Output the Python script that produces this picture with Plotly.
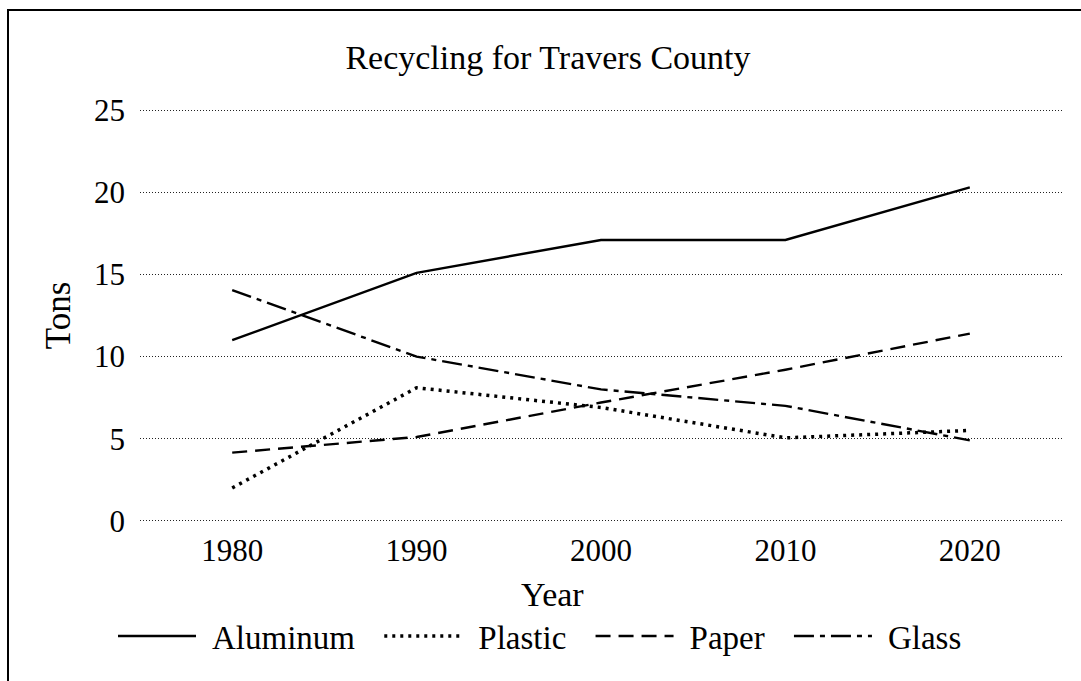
import plotly.graph_objects as go

years = ["1980", "1990", "2000", "2010", "2020"]
aluminum = [11.0, 15.1, 17.1, 17.1, 20.3]
plastic = [2.0, 8.1, 6.9, 5.05, 5.5]
paper = [4.15, 5.1, 7.2, 9.2, 11.4]
glass = [14.05, 10.0, 8.0, 7.0, 4.9]

series = [
    ("Aluminum", aluminum, "solid", 2.4),
    ("Plastic", plastic, "3px,5px", 3.5),
    ("Paper", paper, "15px,8px", 2.4),
    ("Glass", glass, "20px,6px,5px,6px", 2.4),
]

FONT = "Liberation Serif"
NB = "\u00a0"

fig = go.Figure()
for i, (name, vals, dash, w) in enumerate(series):
    label = NB + "\u200a" + name + (NB * 2 + "\u200a" if i < len(series) - 1 else "")
    fig.add_trace(go.Scatter(x=years, y=vals, name=label, mode="lines",
                             line=dict(color="black", dash=dash, width=w)))

L, R, T, B = 140, 19, 102, 152
PW, PH = 1081 - L - R, 681 - T - B

fig.update_layout(
    width=1081, height=681,
    paper_bgcolor="white", plot_bgcolor="white",
    margin=dict(l=L, r=R, t=T, b=B),
    font=dict(family=FONT, size=31, color="black"),
    title=dict(text="Recycling for Travers County", x=548 / 1081, xanchor="center",
               y=1 - 57 / 681, yanchor="middle", font=dict(family=FONT, size=34, color="black")),
    showlegend=True,
    legend=dict(orientation="h", x=(540 - L) / PW, xanchor="center",
                y=(T + PH - 636) / PH, yanchor="middle",
                font=dict(family=FONT, size=33), itemwidth=78, traceorder="normal"),
)
fig.update_xaxes(type="category", range=[-0.5, 4.5], showgrid=False, showline=False,
                 ticks="", tickfont=dict(size=31))
fig.update_yaxes(range=[-0.5, 25.5], tickvals=[0, 5, 10, 15, 20, 25], showgrid=True,
                 gridcolor="#222", gridwidth=1, griddash="1px,2px", zeroline=False,
                 showline=False, ticks="", ticklabelstandoff=14, tickfont=dict(size=31),
                 title=dict(text="Tons", font=dict(size=35), standoff=12))

fig.add_annotation(text="Year", xref="paper", yref="paper",
                   x=(552 - L) / PW, y=(T + PH - 594) / PH, xanchor="center", yanchor="middle",
                   showarrow=False, font=dict(family=FONT, size=34, color="black"))

fig.add_shape(type="rect", xref="paper", yref="paper",
              x0=(8 - L) / PW, x1=1.1, y0=-0.5, y1=(T + PH - 10) / PH,
              line=dict(color="black", width=2), fillcolor="rgba(0,0,0,0)", layer="below")

fig.write_html("out.html", config={"displayModeBar": False},
               post_script="document.body.style.margin='0';")
